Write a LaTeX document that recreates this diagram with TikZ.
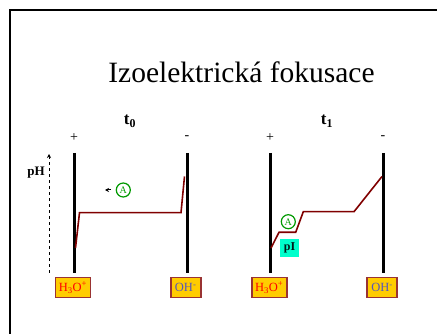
\documentclass[tikz,border=0pt]{standalone}
\usepackage{fontspec}
\setmainfont{Liberation Serif}
\usetikzlibrary{arrows.meta}
\definecolor{curvec}{HTML}{800000}
\definecolor{boxfill}{HTML}{FFCC00}
\definecolor{boxedge}{HTML}{993333}
\definecolor{ohc}{HTML}{5555BB}
\definecolor{ionc}{HTML}{FF0000}
\definecolor{agreen}{HTML}{009900}
\definecolor{picyan}{HTML}{00FFCC}
\begin{document}
\begin{tikzpicture}[x=1pt,y=-1pt,
  electrode/.style={line width=3pt},
  phcurve/.style={draw=curvec,line width=1.6pt,line join=miter},
  ionbox/.style={draw=boxedge,fill=boxfill,line width=1.8pt,minimum width=35pt,minimum height=20pt,inner sep=0pt,font=\fontsize{12.5}{14}\selectfont},
  sign/.style={font=\fontsize{14}{16}\selectfont},
  tlabel/.style={font=\bfseries\fontsize{17}{19}\selectfont},
  acirc/.style={circle,draw=agreen,line width=1.2pt,text=agreen,minimum size=14pt,inner sep=0pt,font=\fontsize{10}{12}\selectfont}]
\useasboundingbox (0,0) rectangle (437,334);
% frame
\draw[line width=2pt] (10,334) -- (10,10) -- (437,10);
% title
\node[font=\fontsize{29.5}{32}\selectfont] (title) at (241.5,72) {Izoelektrická fokusace};
% labels
\node[tlabel] (t0) at (130,121) {t\textsubscript{0}};
\node[tlabel] (t1) at (327,121) {t\textsubscript{1}};
\node[sign] (p0) at (74,138) {+};
\node[sign] (m0) at (187,138) {-};
\node[sign] (p1) at (270,138) {+};
\node[sign] (m1) at (383,138) {-};
\node[font=\bfseries\fontsize{13}{15}\selectfont] (ph) at (36,173) {pH};
% pH axis
\coordinate (axb) at (49,273);
\coordinate (axt) at (49,154);
\draw[dashed,line width=0.8pt,-{Stealth[length=4pt,width=4pt]}] (axb) -- (axt);
% electrodes
\coordinate (e1t) at (74,153); \coordinate (e1b) at (74,273);
\coordinate (e2t) at (187,153); \coordinate (e2b) at (187,273);
\coordinate (e3t) at (270,153); \coordinate (e3b) at (270,273);
\coordinate (e4t) at (383,153); \coordinate (e4b) at (383,273);
\draw[electrode] (e1t) -- (e1b);
\draw[electrode] (e2t) -- (e2b);
\draw[electrode] (e3t) -- (e3b);
\draw[electrode] (e4t) -- (e4b);
% curves
\draw[phcurve] (75.5,248) -- (79.5,212.7) -- (181,212.7) -- (184.5,176.5);
\draw[phcurve] (271,248) -- (279,232.3) -- (295.7,232.3) -- (303.3,211.7) -- (354,211.7) -- (382,176.5);
% A left with arrow
\node[acirc] (a0) at (123.3,190) {A};
\coordinate (arr) at (105,190);
\draw[line width=1pt,-{Stealth[length=4pt,width=4pt]}] (111,190) -- (arr);
% A right and pI
\node[acirc] (a1) at (288.3,221.7) {A};
\node[fill=picyan,minimum width=19pt,minimum height=18pt,inner sep=0pt,font=\bfseries\fontsize{12}{14}\selectfont,text=black!80!teal] (pi) at (289.5,248.3) {pI};
% ion boxes
\node[ionbox,text=ionc] (h1) at (73,287.5) {H\textsubscript{3}O\textsuperscript{+}};
\node[ionbox,minimum width=30pt,text=ohc] (o1) at (185.7,287.5) {OH\textsuperscript{-}};
\node[ionbox,text=ionc] (h2) at (269.2,287.5) {H\textsubscript{3}O\textsuperscript{+}};
\node[ionbox,minimum width=30pt,text=ohc] (o2) at (382,287.5) {OH\textsuperscript{-}};
\end{tikzpicture}
\end{document}
